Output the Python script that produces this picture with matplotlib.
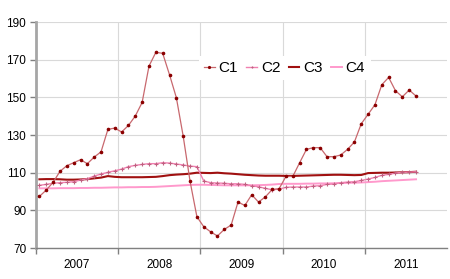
import numpy as np
import matplotlib
matplotlib.use("Agg")
import matplotlib.pyplot as plt

plt.rcParams['font.family'] = ['Liberation Sans', 'DejaVu Sans']

# monthly values, Jan 2007 - Aug 2011
c1 = [97.4, 100.8, 104.9, 110.7, 113.7, 115.3, 116.9, 114.8, 118.3, 121.1, 133.0, 133.7,
      131.6, 135.1, 140.1, 147.3, 166.6, 173.9, 173.4, 162.0, 149.8, 129.3, 105.4, 86.6,
      81.3, 78.6, 76.4, 79.9, 82.2, 94.4, 92.6, 98.3, 94.4, 97.2, 101.1, 101.5,
      108.0, 108.0, 115.3, 122.4, 123.3, 123.3, 118.5, 118.5, 119.4, 122.4, 126.3, 136.0,
      141.0, 146.1, 156.7, 160.6, 153.5, 150.3, 153.9, 150.7]
c2 = [103.3, 103.8, 104.4, 104.7, 104.9, 105.2, 106.1, 106.8, 108.2, 109.3, 110.2, 111.0,
      111.9, 113.2, 113.9, 114.4, 114.8, 114.8, 115.3, 115.1, 114.6, 114.1, 113.5, 113.2,
      105.6, 104.7, 104.5, 104.4, 104.1, 104.1, 103.8, 103.1, 102.5, 101.7, 100.9, 101.3,
      102.2, 102.4, 102.4, 102.4, 102.9, 103.1, 103.8, 104.0, 104.7, 105.0, 105.2, 105.9,
      106.6, 107.5, 108.6, 109.1, 109.8, 110.2, 110.3, 110.5]
c3 = [106.5, 106.6, 106.6, 106.5, 106.3, 106.3, 106.4, 106.6, 107.0, 107.4, 108.2, 107.8,
      107.6, 107.6, 107.6, 107.6, 107.7, 107.8, 108.2, 108.7, 109.0, 109.2, 109.5, 110.0,
      109.9, 109.8, 110.0, 109.7, 109.5, 109.2, 108.9, 108.7, 108.5, 108.4, 108.4, 108.4,
      108.3, 108.3, 108.4, 108.5, 108.6, 108.7, 108.8, 108.9, 108.9, 108.8, 108.7, 108.8,
      109.8, 109.9, 110.0, 110.0, 110.1, 110.2, 110.3, 110.5]
c4 = [101.7, 101.7, 101.7, 101.8, 101.8, 101.8, 101.9, 101.9, 102.0, 102.0, 102.1, 102.2,
      102.2, 102.3, 102.3, 102.4, 102.4, 102.5, 102.7, 102.9, 103.1, 103.3, 103.5, 103.6,
      103.6, 103.5, 103.4, 103.3, 103.3, 103.3, 103.3, 103.3, 103.4, 103.5, 103.7, 104.0,
      104.1, 104.1, 104.1, 104.2, 104.2, 104.3, 104.3, 104.4, 104.5, 104.6, 104.7, 104.8,
      105.0, 105.2, 105.5, 105.7, 105.9, 106.1, 106.3, 106.5]
years = ['2007', '2008', '2009', '2010', '2011']
y_ticks = [70, 90, 110, 130, 150, 170, 190]

x = np.arange(len(c1)) + 0.5

fig = plt.figure(figsize=(4.5, 2.79), dpi=100)
ax = fig.add_axes([0.08, 0.111, 0.913, 0.81])

ax.plot(x, c4, color='#FF99CC', lw=1.4, label='C4', zorder=3)
ax.plot(x, c3, color='#A01010', lw=1.5, label='C3', zorder=4)
ax.plot(x, c2, color='#F080B0', lw=1.0, marker='+', ms=2.5, mew=0.8,
        mec='#C06080', label='C2', zorder=5)
ax.plot(x, c1, color='#C8686E', lw=0.9, marker='o', ms=1.6,
        mfc='#8B0000', mec='#8B0000', label='C1', zorder=6)

ax.set_xlim(0, 60)
ax.set_ylim(70, 190)
ax.set_yticks(y_ticks)
ax.set_xticks([0, 12, 24, 36, 48])
ax.set_xticklabels([])
ax.set_xticks([6, 18, 30, 42, 54], minor=True)
ax.set_xticklabels(years, minor=True)
ax.tick_params(axis='x', which='minor', length=0, pad=8, labelsize=8.5)
ax.tick_params(axis='x', which='major', length=4, color='#808080', width=1)
ax.tick_params(axis='y', length=4, color='#808080', width=1, labelsize=8.5, pad=3)

ax.grid(True, which='major', color='#D9D9D9', lw=0.8, zorder=0)
ax.set_axisbelow(True)
for s in ['top', 'right']:
    ax.spines[s].set_visible(False)
ax.spines['left'].set_color('#A6A6A6')
ax.spines['left'].set_linewidth(2)
ax.spines['bottom'].set_color('#808080')
ax.spines['bottom'].set_linewidth(1)

handles, labels = ax.get_legend_handles_labels()
order = [3, 2, 1, 0]
leg = ax.legend([handles[i] for i in order], [labels[i] for i in order],
                ncol=4, loc='center', bbox_to_anchor=(0.605, 0.796),
                frameon=True, fancybox=False, edgecolor='none', framealpha=1,
                fontsize=11, handlelength=0.7, handletextpad=0.25,
                columnspacing=0.55, borderpad=0.35, markerscale=0.8)

fig.savefig('out.png', dpi=100)
